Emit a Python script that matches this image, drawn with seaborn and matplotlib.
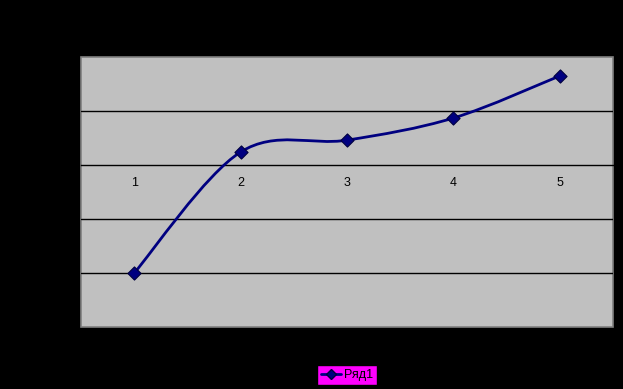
import numpy as np
import matplotlib
matplotlib.use("Agg")
import matplotlib.pyplot as plt
import seaborn as sns
from matplotlib.path import Path
from matplotlib.patches import PathPatch
from matplotlib.lines import Line2D

# values
categories = [1, 2, 3, 4, 5]
series_values = [-2.0, 0.24, 0.46, 0.87, 1.65]
series_name = "Ряд1"

sns.set_style("white")
plt.rcParams['font.family'] = ['Liberation Sans', 'DejaVu Sans']

fig = plt.figure(figsize=(6.23, 3.89), dpi=100)
fig.patch.set_facecolor("black")
ax = fig.add_axes([81 / 623, 62 / 389, 532 / 623, 270 / 389])
ax.set_facecolor("#C0C0C0")
ax.patch.set_edgecolor("#808080")
ax.patch.set_linewidth(1.2)

ax.set_xlim(0.5, 5.5)
ax.set_ylim(-3, 2)

# horizontal gridlines
for y in [-2, -1, 1]:
    ax.axhline(y, color="black", lw=1, zorder=1)

# smoothed line (Excel style bezier through the points)
x = np.array(categories, dtype=float)
y = np.array(series_values, dtype=float)
px = np.concatenate([[x[0]], x, [x[-1]]])
py = np.concatenate([[y[0]], y, [y[-1]]])
verts = [(x[0], y[0])]
codes = [Path.MOVETO]
for i in range(1, len(x)):
    c1 = (px[i] + (px[i + 1] - px[i - 1]) / 6, py[i] + (py[i + 1] - py[i - 1]) / 6)
    c2 = (px[i + 1] - (px[i + 2] - px[i]) / 6, py[i + 1] - (py[i + 2] - py[i]) / 6)
    verts += [c1, c2, (px[i + 1], py[i + 1])]
    codes += [Path.CURVE4] * 3
ax.add_patch(PathPatch(Path(verts, codes), facecolor="none", edgecolor="#000080", lw=2, zorder=3))

sns.scatterplot(x=categories, y=series_values, marker="D", s=45, color="#000080",
                edgecolor="#000040", linewidth=0.8, zorder=4, ax=ax, legend=False)

# category axis crossing at zero
for s in ["top", "right", "left"]:
    ax.spines[s].set_visible(False)
ax.spines["bottom"].set_position(("data", 0))
ax.spines["bottom"].set_color("black")
ax.spines["bottom"].set_linewidth(1)
ax.set_xticks(categories)
ax.set_xticklabels([str(c) for c in categories])
ax.set_xticks(np.arange(0.5, 5.6, 1.0), minor=True)
ax.tick_params(axis="x", which="major", length=0, pad=9, labelsize=9, colors="black")
ax.tick_params(axis="x", which="minor", length=4, width=1, color="black", direction="out")
ax.set_yticks([])
ax.set_xlabel("")
ax.set_ylabel("")

handle = Line2D([], [], color="#000080", lw=2, marker="D", markersize=5,
                markerfacecolor="#000080", markeredgecolor="#000040")
leg = fig.legend([handle], [series_name], loc="center", bbox_to_anchor=(347 / 623, 1 - 375 / 389),
                 facecolor="#FF00FF", edgecolor="black", framealpha=1, fancybox=False,
                 fontsize=9, handlelength=1.6, handletextpad=0.3, borderpad=0.3, borderaxespad=0)
for t in leg.get_texts():
    t.set_color("black")

fig.savefig("out.png", dpi=100, facecolor="black")
